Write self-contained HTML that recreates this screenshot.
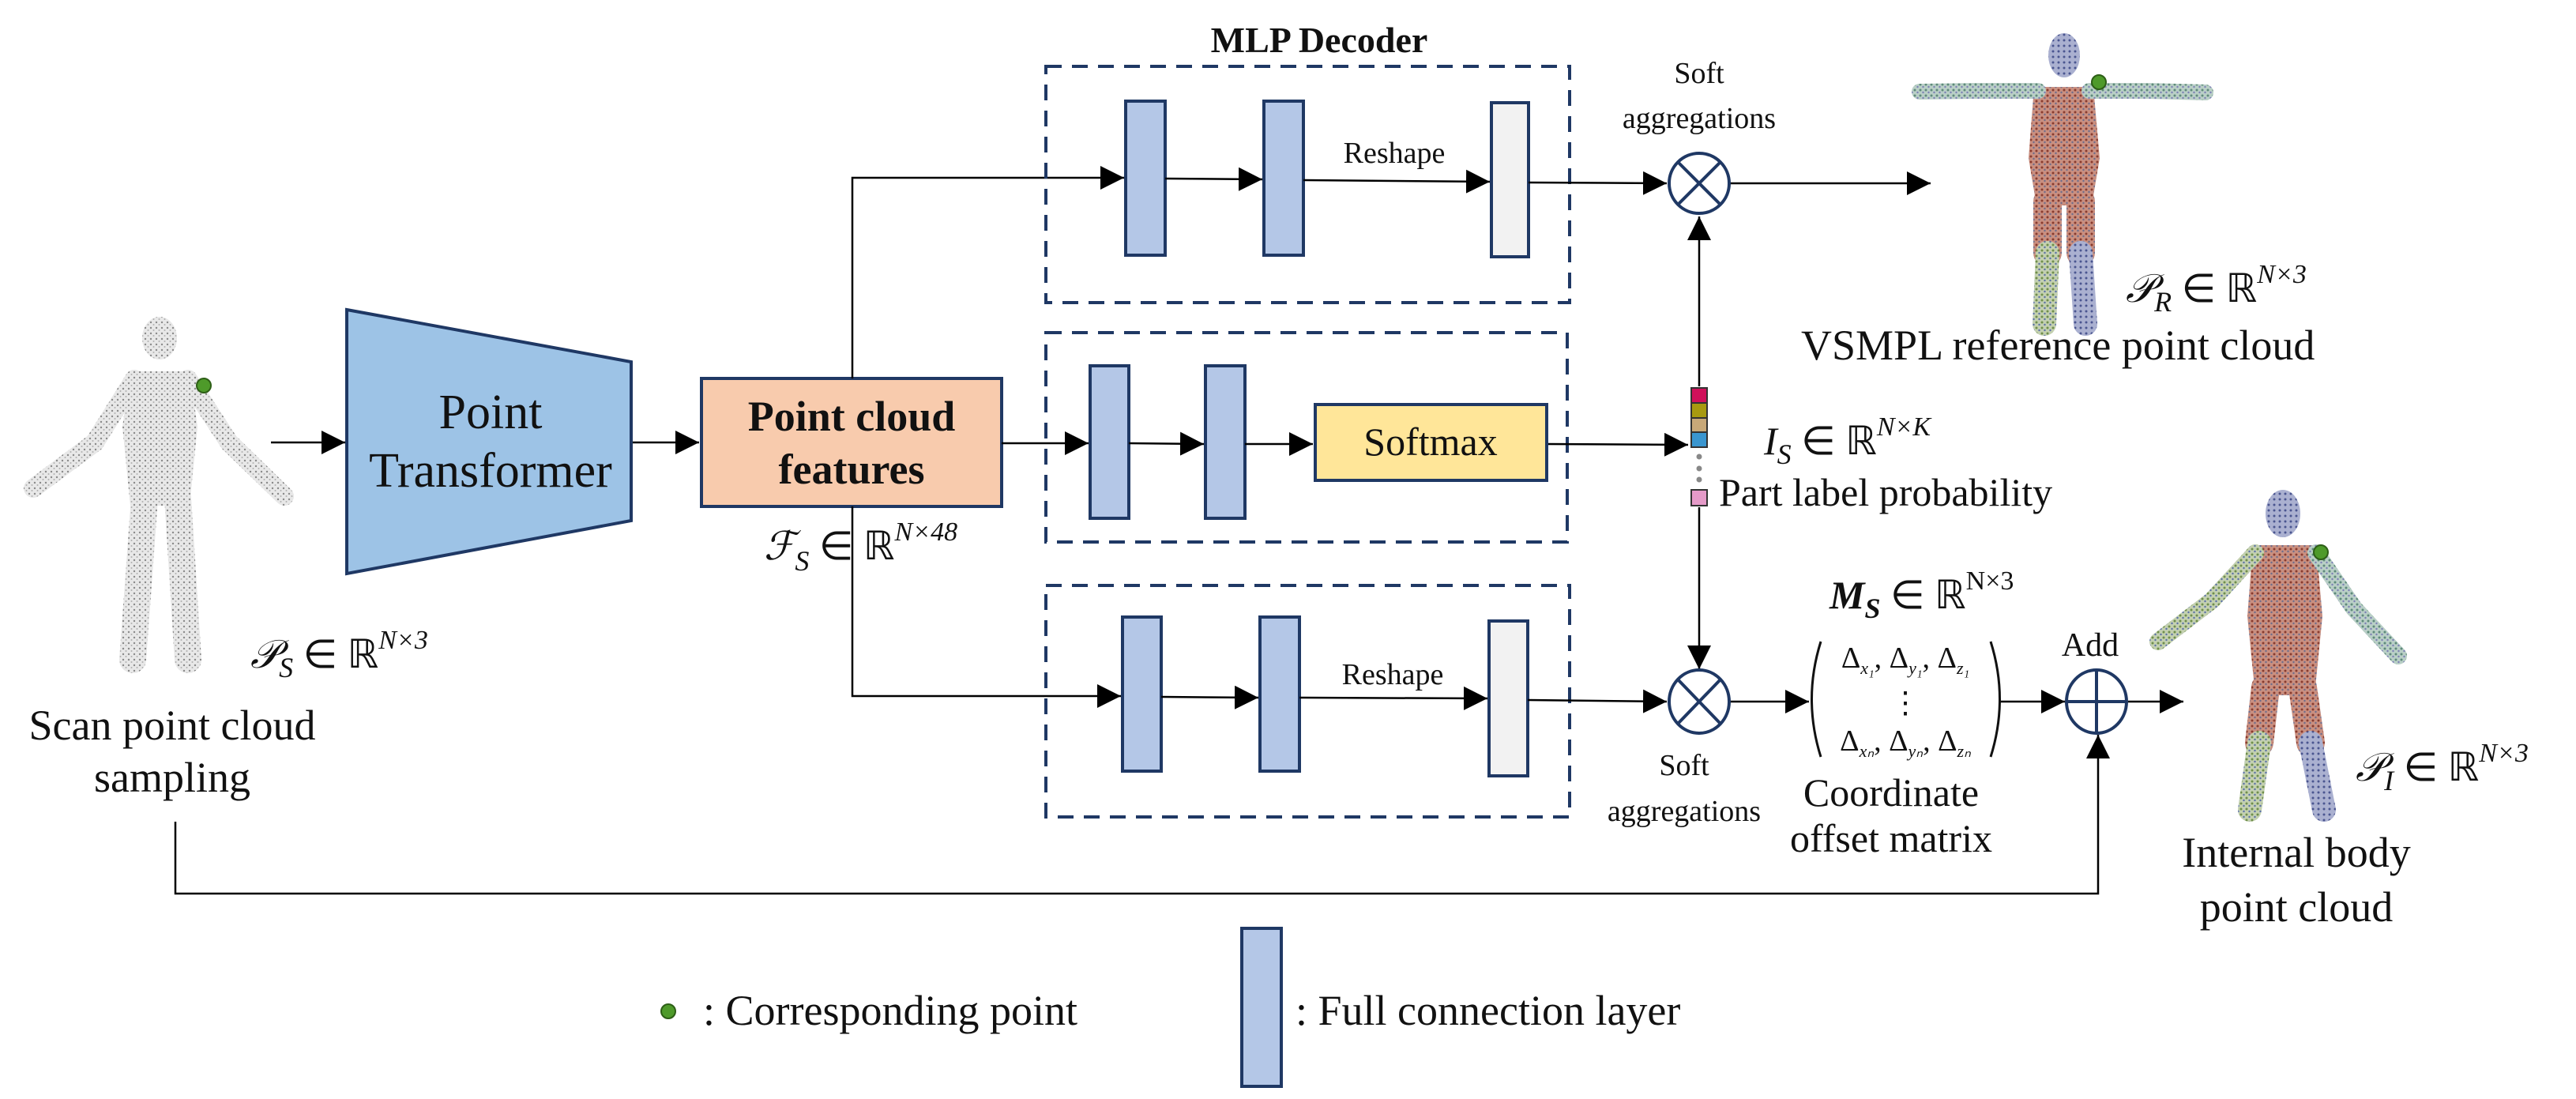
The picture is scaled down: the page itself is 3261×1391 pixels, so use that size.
<!DOCTYPE html>
<html><head><meta charset="utf-8"><style>
html,body{margin:0;padding:0;background:#fff}
svg{display:block}
text{font-family:"Liberation Serif",serif;fill:#111}
</style></head><body>
<svg width="3261" height="1391" viewBox="0 0 3261 1391" xmlns="http://www.w3.org/2000/svg">
<defs>
<marker id="ah" viewBox="0 0 10 10" refX="10" refY="5" markerWidth="30" markerHeight="30" markerUnits="userSpaceOnUse" orient="auto"><path d="M0,0 L10,5 L0,10 z" fill="#000"/></marker>
<pattern id="pg" width="7" height="7" patternUnits="userSpaceOnUse"><rect width="7" height="7" fill="#e8e8e8"/><circle cx="2" cy="2" r="1.2" fill="#8a8a8a"/><circle cx="5.5" cy="5" r="1" fill="#b0b0b0"/></pattern>
<pattern id="pb" width="7" height="7" patternUnits="userSpaceOnUse"><rect width="7" height="7" fill="#c98f80"/><circle cx="2" cy="2" r="1.5" fill="#8a3b2e"/><circle cx="5.5" cy="5" r="1.2" fill="#6d6d8c"/></pattern>
<pattern id="pa" width="7" height="7" patternUnits="userSpaceOnUse"><rect width="7" height="7" fill="#b9cfc6"/><circle cx="2" cy="2" r="1.5" fill="#5e8a7a"/><circle cx="5.5" cy="5" r="1.2" fill="#7c7fb5"/></pattern>
<pattern id="pl" width="7" height="7" patternUnits="userSpaceOnUse"><rect width="7" height="7" fill="#c3d0b0"/><circle cx="2" cy="2" r="1.5" fill="#6f8f4a"/><circle cx="5.5" cy="5" r="1.2" fill="#5a6fa8"/></pattern>
<pattern id="ph" width="7" height="7" patternUnits="userSpaceOnUse"><rect width="7" height="7" fill="#aab0d0"/><circle cx="2" cy="2" r="1.5" fill="#4a5590"/></pattern>
</defs>

<g stroke-linecap="round" stroke-linejoin="round">
<ellipse cx="202" cy="428" rx="22" ry="27" fill="url(#pg)"/>
<path d="M165,470 L240,470 L250,540 L240,640 L165,640 L155,540 Z" fill="url(#pg)"/>
<polyline points="170,480 120,560 42,618" fill="none" stroke="url(#pg)" stroke-width="24"/>
<polyline points="238,480 290,560 360,628" fill="none" stroke="url(#pg)" stroke-width="24"/>
<polyline points="183,630 175,740 168,835" fill="none" stroke="url(#pg)" stroke-width="34"/>
<polyline points="225,630 232,740 238,835" fill="none" stroke="url(#pg)" stroke-width="34"/>
</g>
<circle cx="258" cy="488" r="9" fill="#4e9a2a" stroke="#2d5e16" stroke-width="2"/>

<line x1="343" y1="560" x2="437" y2="560" stroke="#000" stroke-width="2.5" marker-end="url(#ah)"/>

<polygon points="439,392 799,458 799,659 439,726" fill="#9dc3e6" stroke="#1f3864" stroke-width="4"/>
<text x="621" y="542" font-size="62" text-anchor="middle">Point</text>
<text x="621" y="616" font-size="62" text-anchor="middle">Transformer</text>

<line x1="801" y1="560" x2="885" y2="560" stroke="#000" stroke-width="2.5" marker-end="url(#ah)"/>

<rect x="888" y="479" width="380" height="162" fill="#f8cbad" stroke="#1f3864" stroke-width="4"/>
<text x="1078" y="545" font-size="54" font-weight="bold" text-anchor="middle">Point cloud</text>
<text x="1078" y="612" font-size="54" font-weight="bold" text-anchor="middle">features</text>
<text x="967" y="708" font-size="50" font-style="italic">ℱ<tspan font-size="36" dy="14">S</tspan><tspan dy="-14" font-style="normal"> ∈ ℝ</tspan><tspan font-size="34" dy="-24">N×48</tspan></text>

<polyline points="1079,479 1079,225 1423,225" fill="none" stroke="#000" stroke-width="2.5" marker-end="url(#ah)"/>
<polyline points="1079,641 1079,881 1419,881" fill="none" stroke="#000" stroke-width="2.5" marker-end="url(#ah)"/>
<line x1="1268" y1="561" x2="1378" y2="561" stroke="#000" stroke-width="2.5" marker-end="url(#ah)"/>

<text x="1670" y="66" font-size="46" font-weight="bold" text-anchor="middle">MLP Decoder</text>
<g fill="none" stroke="#1f3864" stroke-width="4" stroke-dasharray="20,13">
<rect x="1324" y="84" width="663" height="299"/>
<rect x="1324" y="421" width="660" height="265"/>
<rect x="1324" y="741" width="663" height="293"/>
</g>

<g fill="#b4c7e7" stroke="#1f3864" stroke-width="4">
<rect x="1425" y="128" width="50" height="195"/>
<rect x="1600" y="128" width="50" height="195"/>
<rect x="1380" y="463" width="49" height="193"/>
<rect x="1526" y="463" width="50" height="193"/>
<rect x="1421" y="781" width="49" height="195"/>
<rect x="1595" y="781" width="50" height="195"/>
</g>
<g fill="#f2f2f2" stroke="#1f3864" stroke-width="4">
<rect x="1888" y="130" width="47" height="195"/>
<rect x="1885" y="786" width="49" height="196"/>
</g>
<g stroke="#000" stroke-width="2.5" marker-end="url(#ah)">
<line x1="1475" y1="226" x2="1598" y2="227"/>
<line x1="1650" y1="228" x2="1886" y2="230"/>
<line x1="1935" y1="231" x2="2110" y2="232"/>
<line x1="1429" y1="561" x2="1524" y2="562"/>
<line x1="1576" y1="562" x2="1662" y2="562"/>
<line x1="1958" y1="562" x2="2137" y2="563"/>
<line x1="1470" y1="882" x2="1593" y2="883"/>
<line x1="1645" y1="883" x2="1883" y2="884"/>
<line x1="1934" y1="886" x2="2110" y2="888"/>
<line x1="2190" y1="232" x2="2444" y2="232"/>
<line x1="2151" y1="489" x2="2151" y2="274"/>
<line x1="2151" y1="642" x2="2151" y2="847"/>
<line x1="2190" y1="888" x2="2290" y2="888"/>
<line x1="2532" y1="888" x2="2614" y2="888"/>
<line x1="2694" y1="888" x2="2764" y2="888"/>
</g>
<text x="1765" y="206" font-size="38" text-anchor="middle">Reshape</text>
<text x="1763" y="866" font-size="38" text-anchor="middle">Reshape</text>

<rect x="1665" y="512" width="293" height="96" fill="#ffe699" stroke="#1f3864" stroke-width="4"/>
<text x="1811" y="576" font-size="50" text-anchor="middle">Softmax</text>

<g fill="#fff" stroke="#1f3864" stroke-width="4">
<ellipse cx="2151" cy="232" rx="38" ry="38"/>
<ellipse cx="2151" cy="888" rx="38" ry="40"/>
<ellipse cx="2654" cy="888" rx="38" ry="40"/>
</g>
<g stroke="#1f3864" stroke-width="4">
<line x1="2124" y1="205" x2="2178" y2="259"/><line x1="2178" y1="205" x2="2124" y2="259"/>
<line x1="2124" y1="860" x2="2178" y2="916"/><line x1="2178" y1="860" x2="2124" y2="916"/>
<line x1="2616" y1="888" x2="2692" y2="888"/><line x1="2654" y1="848" x2="2654" y2="928"/>
</g>
<text x="2151" y="105" font-size="38" text-anchor="middle">Soft</text>
<text x="2151" y="162" font-size="38" text-anchor="middle">aggregations</text>
<text x="2132" y="981" font-size="38" text-anchor="middle">Soft</text>
<text x="2132" y="1039" font-size="38" text-anchor="middle">aggregations</text>

<g stroke="#333" stroke-width="2">
<rect x="2141" y="491" width="20" height="19" fill="#d0105a"/>
<rect x="2141" y="510" width="20" height="19" fill="#a89a10"/>
<rect x="2141" y="529" width="20" height="18" fill="#c8a878"/>
<rect x="2141" y="547" width="20" height="19" fill="#3a96d0"/>
<rect x="2141" y="620" width="20" height="20" fill="#e59ac8"/>
</g>
<circle cx="2151" cy="578" r="3.5" fill="#888"/><circle cx="2151" cy="593" r="3.5" fill="#888"/><circle cx="2151" cy="607" r="3.5" fill="#888"/>
<text x="2233" y="575" font-size="50" font-style="italic">I<tspan font-size="36" dy="12">S</tspan><tspan dy="-12" font-style="normal"> ∈ ℝ</tspan><tspan font-size="34" dy="-24" font-style="italic">N×K</tspan></text>
<text x="2176" y="640" font-size="50">Part label probability</text>

<text x="2316" y="770" font-size="50" font-style="italic" font-weight="bold">M<tspan font-size="36" dy="12">S</tspan><tspan dy="-12" font-style="normal" font-weight="normal"> ∈ ℝ</tspan><tspan font-size="34" dy="-24" font-style="normal" font-weight="normal">N×3</tspan></text>
<path d="M2305,812 Q2282,885 2305,958" fill="none" stroke="#111" stroke-width="3"/>
<path d="M2520,812 Q2543,885 2520,958" fill="none" stroke="#111" stroke-width="3"/>
<text x="2412" y="845" font-size="38" text-anchor="middle">Δ<tspan font-size="22" font-style="italic" dy="8">x₁</tspan><tspan dy="-8">, Δ</tspan><tspan font-size="22" font-style="italic" dy="8">y₁</tspan><tspan dy="-8">, Δ</tspan><tspan font-size="22" font-style="italic" dy="8">z₁</tspan></text>
<text x="2412" y="902" font-size="38" text-anchor="middle">⋮</text>
<text x="2412" y="950" font-size="38" text-anchor="middle">Δ<tspan font-size="22" font-style="italic" dy="8">xₙ</tspan><tspan dy="-8">, Δ</tspan><tspan font-size="22" font-style="italic" dy="8">yₙ</tspan><tspan dy="-8">, Δ</tspan><tspan font-size="22" font-style="italic" dy="8">zₙ</tspan></text>
<text x="2394" y="1020" font-size="50" text-anchor="middle">Coordinate</text>
<text x="2394" y="1078" font-size="50" text-anchor="middle">offset matrix</text>
<text x="2646" y="830" font-size="42" text-anchor="middle">Add</text>

<polyline points="222,1040 222,1131 2656,1131 2656,930" fill="none" stroke="#000" stroke-width="2.5" marker-end="url(#ah)"/>

<text x="218" y="936" font-size="54" text-anchor="middle">Scan point cloud</text>
<text x="218" y="1002" font-size="54" text-anchor="middle">sampling</text>
<text x="317" y="845" font-size="50" font-style="italic">𝒫<tspan font-size="36" dy="12">S</tspan><tspan dy="-12" font-style="normal"> ∈ ℝ</tspan><tspan font-size="34" dy="-24">N×3</tspan></text>

<g stroke-linecap="round">
<ellipse cx="2613" cy="70" rx="20" ry="28" fill="url(#ph)"/>
<path d="M2575,110 L2650,110 L2658,200 L2648,260 L2578,260 L2568,200 Z" fill="url(#pb)"/>
<polyline points="2580,115 2500,115 2430,116" fill="none" stroke="url(#pa)" stroke-width="20"/>
<polyline points="2645,115 2720,115 2792,117" fill="none" stroke="url(#pa)" stroke-width="20"/>
<line x1="2592" y1="255" x2="2592" y2="320" stroke="url(#pb)" stroke-width="36"/>
<line x1="2634" y1="255" x2="2634" y2="320" stroke="url(#pb)" stroke-width="36"/>
<line x1="2592" y1="320" x2="2588" y2="410" stroke="url(#pl)" stroke-width="30"/>
<line x1="2634" y1="320" x2="2640" y2="410" stroke="url(#ph)" stroke-width="30"/>
</g>
<circle cx="2657" cy="104" r="9" fill="#4e9a2a" stroke="#2d5e16" stroke-width="2"/>
<text x="2691" y="382" font-size="50" font-style="italic">𝒫<tspan font-size="36" dy="12">R</tspan><tspan dy="-12" font-style="normal"> ∈ ℝ</tspan><tspan font-size="34" dy="-24">N×3</tspan></text>
<text x="2280" y="455" font-size="54">VSMPL  reference point cloud</text>

<g stroke-linecap="round">
<ellipse cx="2890" cy="650" rx="22" ry="30" fill="url(#ph)"/>
<path d="M2852,690 L2932,690 L2940,780 L2930,880 L2855,880 L2845,780 Z" fill="url(#pb)"/>
<polyline points="2855,700 2800,760 2732,812" fill="none" stroke="url(#pl)" stroke-width="22"/>
<polyline points="2932,700 2980,770 3036,830" fill="none" stroke="url(#pa)" stroke-width="22"/>
<line x1="2868" y1="870" x2="2860" y2="940" stroke="url(#pb)" stroke-width="36"/>
<line x1="2915" y1="870" x2="2925" y2="940" stroke="url(#pb)" stroke-width="36"/>
<line x1="2860" y1="940" x2="2848" y2="1025" stroke="url(#pl)" stroke-width="30"/>
<line x1="2925" y1="940" x2="2942" y2="1025" stroke="url(#ph)" stroke-width="30"/>
</g>
<circle cx="2938" cy="699" r="9" fill="#4e9a2a" stroke="#2d5e16" stroke-width="2"/>
<text x="2982" y="988" font-size="50" font-style="italic">𝒫<tspan font-size="36" dy="12">I</tspan><tspan dy="-12" font-style="normal"> ∈ ℝ</tspan><tspan font-size="34" dy="-24">N×3</tspan></text>
<text x="2907" y="1097" font-size="54" text-anchor="middle">Internal body</text>
<text x="2907" y="1166" font-size="54" text-anchor="middle">point cloud</text>

<circle cx="846" cy="1280" r="9" fill="#4e9a2a" stroke="#2d5e16" stroke-width="2"/>
<text x="890" y="1297" font-size="54">: Corresponding point</text>
<rect x="1572" y="1175" width="50" height="200" fill="#b4c7e7" stroke="#1f3864" stroke-width="4"/>
<text x="1640" y="1297" font-size="54">: Full connection layer</text>
</svg>
</body></html>
